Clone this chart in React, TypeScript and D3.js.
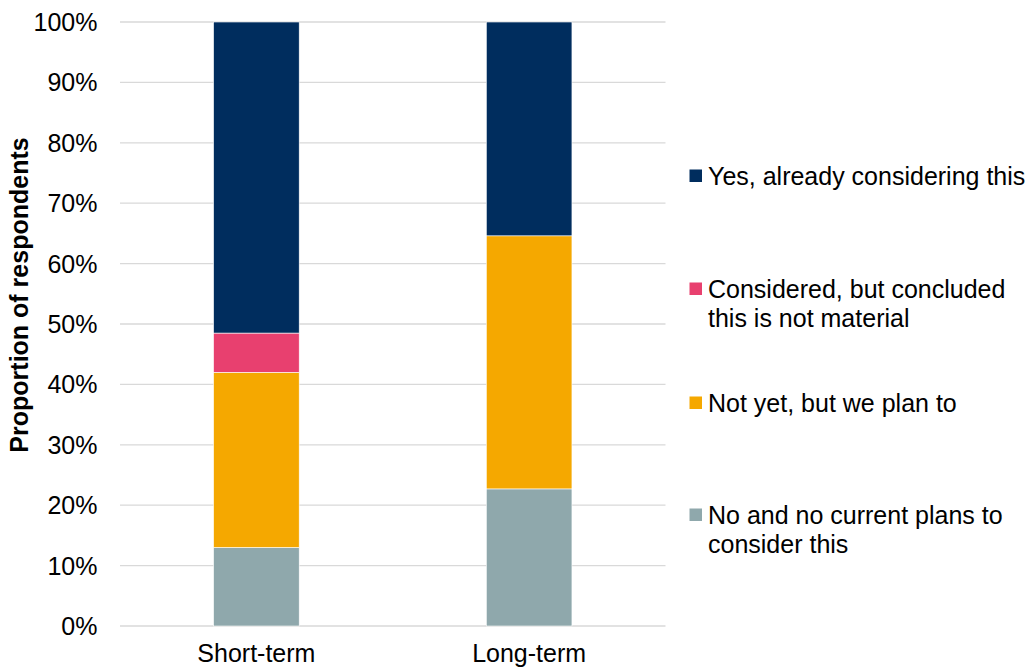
import React from "react";
import * as d3 from "d3";

const categories = ["Short-term", "Long-term"];
const seriesNames = [
  "No and no current plans to consider this",
  "Not yet, but we plan to",
  "Considered, but concluded this is not material",
  "Yes, already considering this",
];
const noPlans = [13.0, 22.7];
const notYet = [29.0, 41.9];
const consideredNotMaterial = [6.5, 0];
const yesConsidering = [51.5, 35.4];
const yTicks = [0, 10, 20, 30, 40, 50, 60, 70, 80, 90, 100];
const colors = ["#8FA8AC", "#F5A800", "#E8406F", "#002D5E"];
const legendOrder = [3, 2, 1, 0];
const legendLines = [
  ["No and no current plans to", "consider this"],
  ["Not yet, but we plan to"],
  ["Considered, but concluded", "this is not material"],
  ["Yes, already considering this"],
];

export default function App() {
  const W = 1029, H = 667;
  const left = 120, right = 665.5, top = 22, bottom = 626;
  const font = "'Liberation Sans', Arial, sans-serif";
  const fs = 25;

  const x = d3.scaleBand().domain(categories).range([left, right]).paddingInner(0.686).paddingOuter(0.343);
  const y = d3.scaleLinear().domain([0, 100]).range([bottom, top]);

  const table = categories.map((c, i) => ({
    cat: c,
    s0: noPlans[i],
    s1: notYet[i],
    s2: consideredNotMaterial[i],
    s3: yesConsidering[i],
  }));
  const stack = d3.stack<any>().keys(["s0", "s1", "s2", "s3"])(table);

  const legendY = [176, 289, 403, 515];

  return (
    <svg width={W} height={H} style={{ position: "absolute", left: 0, top: 0 }} fontFamily={font}>
      <rect x={0} y={0} width={W} height={H} fill="#fff" />
      {yTicks.map((t) => (
        <g key={t}>
          <line x1={left} x2={right} y1={y(t)} y2={y(t)} stroke="#D9D9D9" strokeWidth={1.3} />
          <text x={97.5} y={y(t)} dy="0.36em" textAnchor="end" fontSize={fs} fill="#000">
            {t}%
          </text>
        </g>
      ))}
      {stack.map((layer, si) =>
        layer.map((d, ci) =>
          d[1] - d[0] > 0 ? (
            <rect
              key={`${si}-${ci}`}
              x={x(categories[ci])!}
              width={x.bandwidth()}
              y={y(d[1])}
              height={y(d[0]) - y(d[1])}
              fill={colors[si]}
              stroke="#fff"
              strokeWidth={0.6}
            />
          ) : null
        )
      )}
      {categories.map((c) => (
        <text key={c} x={x(c)! + x.bandwidth() / 2} y={662} textAnchor="middle" fontSize={fs} fill="#000">
          {c}
        </text>
      ))}
      <text
        transform={`translate(28, ${(top + bottom) / 2 - 29}) rotate(-90)`}
        textAnchor="middle"
        fontSize={fs}
        fontWeight="bold"
        fill="#000"
      >
        Proportion of respondents
      </text>
      {legendOrder.map((si, k) => {
        const cy = legendY[k];
        return (
          <g key={si}>
            <rect x={689.5} y={cy - 6.5} width={12.5} height={12.5} fill={colors[si]} />
            {legendLines[si].map((ln, li) => (
              <text key={li} x={708} y={cy + 8.5 + li * 29} fontSize={fs} fill="#000">
                {ln}
              </text>
            ))}
          </g>
        );
      })}
    </svg>
  );
}
